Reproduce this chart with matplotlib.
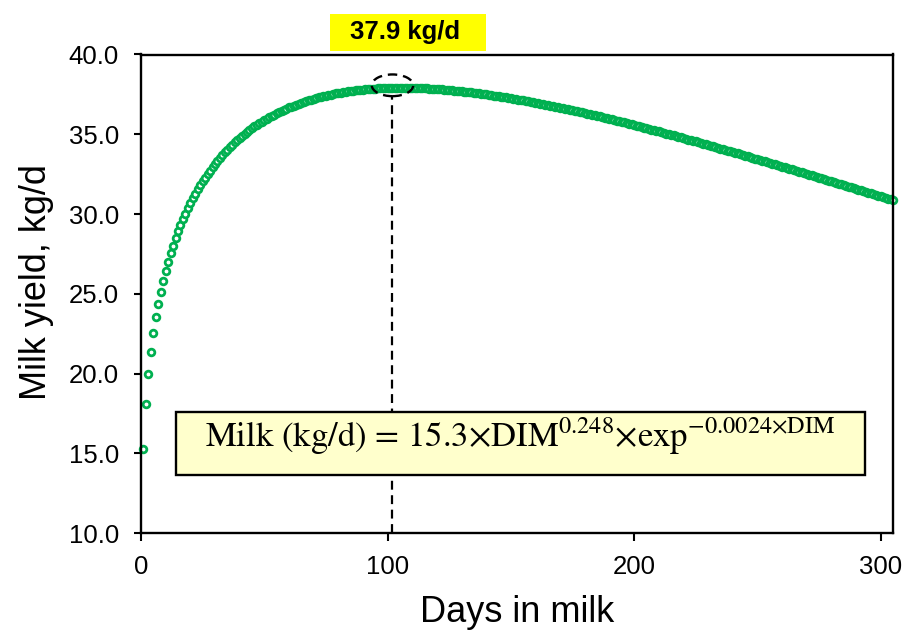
import matplotlib
matplotlib.use("Agg")
import matplotlib.pyplot as plt
from matplotlib.patches import Ellipse, Rectangle

plt.rcParams['font.family'] = ['Liberation Sans', 'DejaVu Sans']
plt.rcParams['mathtext.fontset'] = 'stix'

# days in milk 1..305 and milk yield (kg/d)
dim = list(range(1, 306))
milk = [
    15.26, 18.08, 19.95, 21.38, 22.54, 23.53, 24.39, 25.15, 25.83, 26.45,
    27.02, 27.55, 28.03, 28.49, 28.91, 29.31, 29.68, 30.03, 30.37, 30.69,
    30.99, 31.27, 31.55, 31.80, 32.05, 32.29, 32.52, 32.73, 32.94, 33.14,
    33.33, 33.52, 33.70, 33.87, 34.03, 34.19, 34.34, 34.49, 34.63, 34.77,
    34.90, 35.03, 35.15, 35.27, 35.38, 35.49, 35.60, 35.70, 35.79, 35.89,
    35.98, 36.07, 36.16, 36.24, 36.32, 36.40, 36.47, 36.54, 36.61, 36.68,
    36.74, 36.80, 36.86, 36.92, 36.98, 37.03, 37.08, 37.13, 37.18, 37.22,
    37.27, 37.31, 37.35, 37.39, 37.43, 37.46, 37.49, 37.52, 37.56, 37.58,
    37.61, 37.64, 37.66, 37.69, 37.71, 37.73, 37.75, 37.76, 37.78, 37.80,
    37.81, 37.83, 37.84, 37.85, 37.86, 37.87, 37.88, 37.89, 37.89, 37.90,
    37.90, 37.91, 37.91, 37.91, 37.91, 37.91, 37.91, 37.91, 37.91, 37.90,
    37.90, 37.90, 37.89, 37.88, 37.88, 37.87, 37.86, 37.85, 37.84, 37.83,
    37.82, 37.81, 37.80, 37.78, 37.77, 37.76, 37.74, 37.73, 37.71, 37.69,
    37.68, 37.66, 37.64, 37.62, 37.60, 37.58, 37.56, 37.54, 37.52, 37.50,
    37.48, 37.46, 37.43, 37.41, 37.39, 37.36, 37.34, 37.31, 37.29, 37.26,
    37.24, 37.21, 37.18, 37.16, 37.13, 37.10, 37.07, 37.04, 37.01, 36.98,
    36.95, 36.92, 36.89, 36.86, 36.83, 36.80, 36.77, 36.74, 36.70, 36.67,
    36.64, 36.61, 36.57, 36.54, 36.51, 36.47, 36.44, 36.40, 36.37, 36.33,
    36.30, 36.26, 36.22, 36.19, 36.15, 36.12, 36.08, 36.04, 36.00, 35.97,
    35.93, 35.89, 35.85, 35.81, 35.78, 35.74, 35.70, 35.66, 35.62, 35.58,
    35.54, 35.50, 35.46, 35.42, 35.38, 35.34, 35.30, 35.26, 35.22, 35.18,
    35.14, 35.10, 35.05, 35.01, 34.97, 34.93, 34.89, 34.84, 34.80, 34.76,
    34.72, 34.67, 34.63, 34.59, 34.55, 34.50, 34.46, 34.42, 34.37, 34.33,
    34.29, 34.24, 34.20, 34.15, 34.11, 34.07, 34.02, 33.98, 33.93, 33.89,
    33.84, 33.80, 33.75, 33.71, 33.66, 33.62, 33.57, 33.53, 33.48, 33.44,
    33.39, 33.35, 33.30, 33.25, 33.21, 33.16, 33.12, 33.07, 33.03, 32.98,
    32.93, 32.89, 32.84, 32.80, 32.75, 32.70, 32.66, 32.61, 32.56, 32.52,
    32.47, 32.42, 32.38, 32.33, 32.28, 32.24, 32.19, 32.14, 32.10, 32.05,
    32.00, 31.96, 31.91, 31.86, 31.81, 31.77, 31.72, 31.67, 31.63, 31.58,
    31.53, 31.48, 31.44, 31.39, 31.34, 31.30, 31.25, 31.20, 31.15, 31.11,
    31.06, 31.01, 30.96, 30.92, 30.87,
]

peak_dim = 102
peak_milk = 38.07
peak_label = "37.9 kg/d"
x_ticks = [0, 100, 200, 300]
y_ticks = [10, 15, 20, 25, 30, 35, 40]
equation = ('Milk (kg/d) = 15.3\u00d7DIM$^{0.248}$\u00d7exp'
            '$^{\u22120.0024\u00d7\\mathrm{DIM}}$')

W, H = 912, 630
fig = plt.figure(figsize=(W / 100, H / 100), dpi=100)
ax = fig.add_axes([141 / W, 1 - 533.3 / H, (893 - 141) / W, (533.3 - 54.5) / H])

green = '#00B050'
ax.plot(dim, milk, linestyle='none', marker='o', markersize=4.8,
        markeredgewidth=2.0, markeredgecolor=green, markerfacecolor='white',
        clip_on=False, zorder=3)

# peak marker: dashed ellipse + dashed drop line
ell_w, ell_h = 16.8, 1.36
dash = (0, (4, 2.5))
ax.add_patch(Ellipse((peak_dim, peak_milk), ell_w, ell_h, fill=False,
                     edgecolor='black', linewidth=1.7, linestyle=dash,
                     zorder=4))
ax.plot([peak_dim, peak_dim], [10, peak_milk - ell_h / 2], color='black',
        linewidth=1.6, linestyle=dash, zorder=2)

ax.set_xlim(0, 305)
ax.set_ylim(10, 40)
ax.set_xticks(x_ticks)
ax.set_yticks(y_ticks)
ax.set_yticklabels(['%.1f' % v for v in y_ticks])
ax.tick_params(axis='y', direction='out', length=4.8, width=1.5,
               labelsize=18.5, pad=11)
ax.tick_params(axis='x', direction='out', length=5.5, width=1.5,
               labelsize=18.5, pad=10)
for sp in ax.spines.values():
    sp.set_linewidth(1.7)
    sp.set_zorder(5)

fig.text(517 / W, 1 - 621.7 / H, 'Days in milk', fontsize=26,
         ha='center', va='baseline')
fig.text(37 / W, 1 - 282 / H, 'Milk yield, kg/d', fontsize=26,
         rotation=90, ha='center', va='center')

# yellow peak label
fig.add_artist(Rectangle((330 / W, 1 - 51 / H), (486 - 330) / W, (51 - 14) / H,
                         transform=fig.transFigure, facecolor='#FFFF00',
                         edgecolor='none'))
fig.text(405 / W, 1 - 32.5 / H, peak_label, fontsize=18.5, fontweight='bold',
         ha='center', va='center')

# equation box
fig.add_artist(Rectangle((176 / W, 1 - 475 / H), (865 - 176) / W, (475 - 411.7) / H,
                         transform=fig.transFigure, facecolor='#FFFFCC',
                         edgecolor='black', linewidth=1.7, zorder=6))
fig.text(520.5 / W, 1 - 446.7 / H, equation, fontsize=25, ha='center',
         va='baseline', family='STIXGeneral', zorder=7)

fig.savefig('out.png', dpi=100)
